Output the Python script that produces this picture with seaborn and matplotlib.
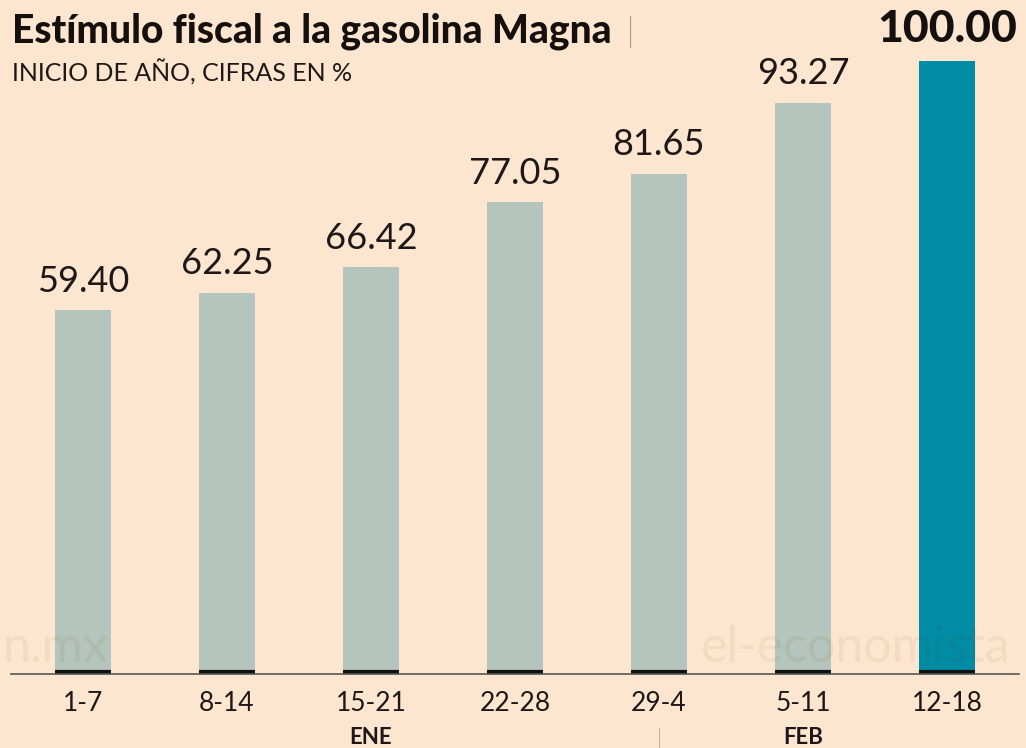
import matplotlib
matplotlib.use("Agg")
import matplotlib.pyplot as plt
import seaborn as sns
import pandas as pd

# datos
semanas = ["1-7", "8-14", "15-21", "22-28", "29-4", "5-11", "12-18"]
estimulo = [59.40, 62.25, 66.42, 77.05, 81.65, 93.27, 100.00]
meses = ["ENE", "|", "FEB"]
mes_pos = [2, 4, 5]

bg = "#fde6cf"
gris = "#b5c4bc"
azul = "#008ca5"
colores = [gris] * 6 + [azul]
tinta = "#1f1717"

sns.set_theme(style="white")
plt.rcParams['font.family'] = ['Lato', 'DejaVu Sans']

df = pd.DataFrame({"semana": semanas, "valor": estimulo})

fig = plt.figure(figsize=(10.26, 7.48), dpi=100, facecolor=bg)
ax = fig.add_axes([11 / 1026, 74 / 748, 1008 / 1026, 674 / 748])
ax.set_facecolor(bg)

sns.barplot(data=df, x="semana", y="valor", hue="semana", palette=colores,
            width=0.39, legend=False, ax=ax, saturation=1, linewidth=0)

ax.set_xlim(-0.5, 6.5)
ax.set_ylim(0, 110)
for s in ["top", "right", "left"]:
    ax.spines[s].set_visible(False)
ax.spines["bottom"].set_color("#555555")
ax.spines["bottom"].set_linewidth(1.2)
ax.set_yticks([])
ax.set_xlabel("")
ax.set_ylabel("")
ax.tick_params(axis="x", length=0, pad=12, labelsize=19, labelcolor=tinta)

# base negra de cada barra
for p in ax.patches:
    ax.plot([p.get_x(), p.get_x() + p.get_width()], [0.3, 0.3],
            color="#111111", lw=3, solid_capstyle="butt", clip_on=False)

# etiquetas de valor
for i, v in enumerate(estimulo):
    if i == len(estimulo) - 1:
        ax.text(i, v + 2, f"{v:.2f}", ha="center", va="bottom",
                fontsize=32, fontweight="black", color="#150f0e")
    else:
        ax.text(i, v + 2, f"{v:.2f}", ha="center", va="bottom",
                fontsize=26, color=tinta)

# meses
for m, x in zip(meses, mes_pos):
    ax.text(x, -10.4, m, ha="center", va="center", fontsize=16,
            fontweight="bold" if m != "|" else "light", color=tinta,
            clip_on=False)

# marca de agua
fig.text(0.002, 0.115, "n.mx", fontsize=36, color="#7a4a20", alpha=0.07)
fig.text(0.683, 0.115, "el-economista", fontsize=36, color="#7a4a20", alpha=0.07)

# titulo
fig.text(12 / 1026, 1 - 42 / 748, "Estímulo fiscal a la gasolina Magna",
         fontsize=28, fontweight="black", color="#150f0e")
fig.text(626 / 1026, 1 - 42 / 748, "|", fontsize=24, fontweight="light",
         color=tinta)
fig.text(12 / 1026, 1 - 82 / 748, "INICIO DE AÑO, CIFRAS EN %",
         fontsize=18, color=tinta)

fig.savefig("out.png", dpi=100, facecolor=bg)
